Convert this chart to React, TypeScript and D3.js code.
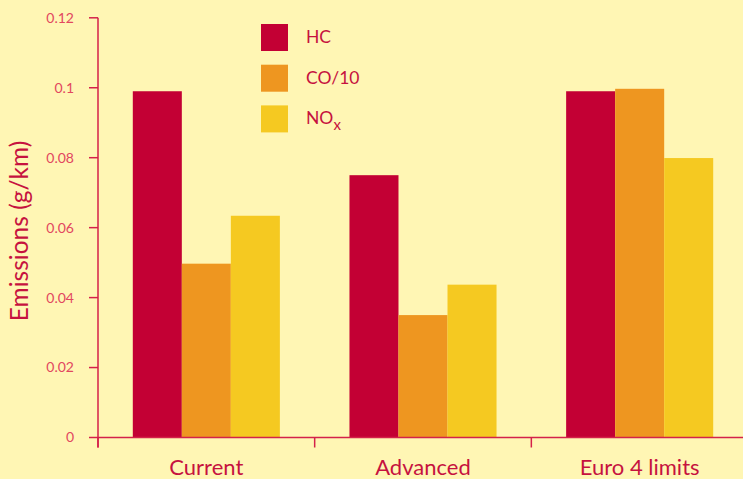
import React from "react";
import * as d3 from "d3";

const categories = ["Current", "Advanced", "Euro 4 limits"];
const seriesNames = ["HC", "CO/10", "NOx"];
const hcValues = [0.099, 0.075, 0.099];
const coValues = [0.0497, 0.035, 0.0997];
const noxValues = [0.0634, 0.0437, 0.0799];
const yTicks = [0, 0.02, 0.04, 0.06, 0.08, 0.1, 0.12];
const colors = ["#c30034", "#ee9620", "#f5c921"];

const W = 743;
const H = 479;
const axisColor = "#d4214a";
const tickLabelColor = "#e2475f";
const textColor = "#c6123f";
const font = "Lato, 'Open Sans', sans-serif";

export default function App() {
  const series = [hcValues, coValues, noxValues];
  const x = d3.scaleBand<string>().domain(categories).range([98, 748]);
  const inner = d3
    .scaleBand<number>()
    .domain([0, 1, 2])
    .range([0, x.bandwidth()])
    .paddingOuter(0.71)
    .paddingInner(0);
  const y = d3.scaleLinear().domain([0, 0.12]).range([437.5, 17.8]);
  const fmt = (v: number) => (v === 0 ? "0" : String(+v.toFixed(2)));

  return (
    <svg
      width={W}
      height={H}
      style={{ position: "absolute", left: 0, top: 0, background: "#fff6b4" }}
    >
      <rect x={0} y={0} width={W} height={H} fill="#fff6b4" />
      {/* bars */}
      {categories.map((c, ci) =>
        series.map((vals, si) => (
          <rect
            key={c + si}
            x={(x(c) as number) + (inner(si) as number)}
            y={y(vals[ci])}
            width={inner.bandwidth()}
            height={y(0) - y(vals[ci])}
            fill={colors[si]}
          />
        ))
      )}
      {/* y axis */}
      <line x1={98} x2={98} y1={y(0.12)} y2={y(0) + 10} stroke={axisColor} strokeWidth={1.5} />
      {yTicks.map((t) => (
        <g key={t}>
          <line x1={89} x2={98} y1={y(t)} y2={y(t)} stroke={axisColor} strokeWidth={1.5} />
          <text
            x={74}
            y={y(t)}
            dy="0.35em"
            textAnchor="end"
            fontFamily={font}
            fontSize={14}
            fill={tickLabelColor}
          >
            {fmt(t)}
          </text>
        </g>
      ))}
      {/* x axis */}
      <line x1={98} x2={W} y1={y(0)} y2={y(0)} stroke={axisColor} strokeWidth={1.5} />
      {categories.map((c) => (
        <line
          key={c}
          x1={x(c) as number}
          x2={x(c) as number}
          y1={y(0)}
          y2={y(0) + 10}
          stroke={axisColor}
          strokeWidth={1.5}
        />
      ))}
      {categories.map((c) => (
        <text
          key={c}
          x={(x(c) as number) + x.bandwidth() / 2}
          y={475}
          textAnchor="middle"
          fontFamily={font}
          fontSize={22}
          fill={textColor}
        >
          {c}
        </text>
      ))}
      {/* y axis title */}
      <text
        transform="translate(28,231) rotate(-90)"
        textAnchor="middle"
        fontFamily={font}
        fontSize={24.5}
        fill={textColor}
      >
        Emissions (g/km)
      </text>
      {/* legend */}
      {seriesNames.map((n, i) => (
        <g key={n} transform={`translate(261,${24 + i * 40.7})`}>
          <rect x={0} y={0} width={27} height={27} fill={colors[i]} />
          <text x={45} y={19} fontFamily={font} fontSize={17.5} fill={textColor}>
            {n === "NOx" ? (
              <>
                NO
                <tspan dy={6} fontSize={15}>
                  x
                </tspan>
              </>
            ) : (
              n
            )}
          </text>
        </g>
      ))}
    </svg>
  );
}
